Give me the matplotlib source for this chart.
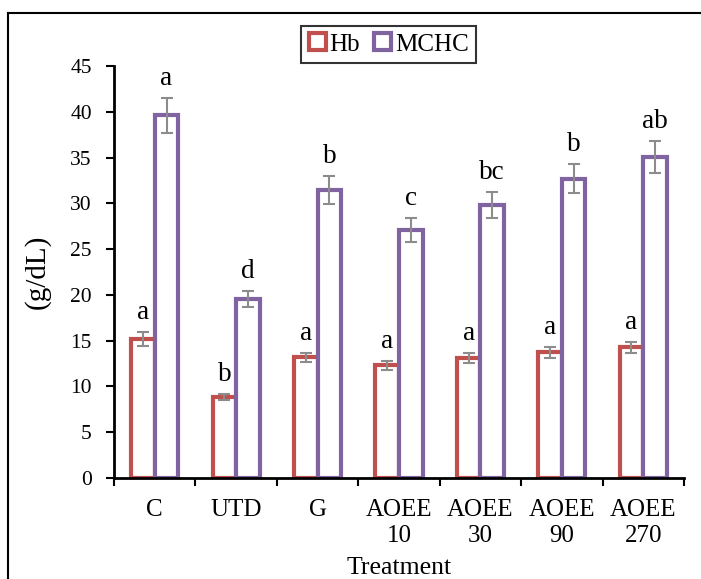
import numpy as np
import matplotlib.pyplot as plt
from matplotlib.lines import Line2D

plt.rcParams['font.family'] = ['Liberation Serif', 'DejaVu Serif']

treatments = ['C', 'UTD', 'G', 'AOEE\n10', 'AOEE\n30', 'AOEE\n90', 'AOEE\n270']
hb = [15.2, 8.85, 13.2, 12.3, 13.1, 13.75, 14.3]
hb_err = [0.75, 0.3, 0.5, 0.5, 0.55, 0.6, 0.6]
hb_letters = ['a', 'b', 'a', 'a', 'a', 'a', 'a']
mchc = [39.6, 19.55, 31.45, 27.1, 29.8, 32.7, 35.05]
mchc_err = [1.9, 0.9, 1.5, 1.3, 1.45, 1.55, 1.75]
mchc_letters = ['a', 'd', 'b', 'c', 'bc', 'b', 'ab']

red = '#C0504D'
purple = '#8064A2'
grey = '#8C8C8C'

fig = plt.figure(figsize=(7.01, 5.79), dpi=100)
ax = fig.add_axes([0.1626, 0.1744, 0.8131, 0.7116])

x = np.arange(len(treatments))
w = 0.29

ax.bar(x - w / 2, hb, w, facecolor='white', edgecolor=red, linewidth=3, label='Hb', zorder=2)
ax.bar(x + w / 2, mchc, w, facecolor='white', edgecolor=purple, linewidth=3, label='MCHC', zorder=2)
ax.errorbar(x - w / 2, hb, yerr=hb_err, fmt='none', ecolor=grey, elinewidth=1.5, capsize=4, capthick=1.5, zorder=3)
ax.errorbar(x + w / 2, mchc, yerr=mchc_err, fmt='none', ecolor=grey, elinewidth=1.5, capsize=4, capthick=1.5, zorder=3)

for xi, v, e, t in zip(x - w / 2, hb, hb_err, hb_letters):
    ax.annotate(t, (xi, v + e), xytext=(0, 5), textcoords='offset points',
                ha='center', va='bottom', fontsize=19.5)
for xi, v, e, t in zip(x + w / 2, mchc, mchc_err, mchc_letters):
    ax.annotate(t, (xi, v + e), xytext=(0, 5), textcoords='offset points',
                ha='center', va='bottom', fontsize=19.5)

ax.set_xlim(-0.5, len(treatments) - 0.5)
ax.set_ylim(0, 45)
ax.set_yticks(range(0, 46, 5))
ax.tick_params(axis='y', labelsize=15.5, direction='out', length=6, width=1.5, pad=10)

ax.set_xticks(x)
ax.set_xticklabels(treatments, fontsize=18, linespacing=1.27)
ax.tick_params(axis='x', which='major', length=0, pad=15)
ax.set_xticks(np.arange(-0.5, len(treatments)), minor=True)
ax.tick_params(axis='x', which='minor', direction='out', length=6, width=1.5)

for s in ['top', 'right']:
    ax.spines[s].set_visible(False)
for s in ['left', 'bottom']:
    ax.spines[s].set_linewidth(2)

ax.set_xlabel('Treatment', fontsize=18.5, labelpad=7)
ax.set_ylabel('(g/dL)', fontsize=21, labelpad=14)

leg = ax.legend(loc='upper center', bbox_to_anchor=(0.482, 1.128), ncol=2, fontsize=18,
                frameon=True, fancybox=False, edgecolor='black', handlelength=0.68,
                handleheight=0.68, handletextpad=0.15, columnspacing=0.55, borderpad=0.3)
leg.get_frame().set_linewidth(1.5)

# outer frame
fig.add_artist(Line2D([8 / 701, 8 / 701], [0, 1 - 13 / 579], transform=fig.transFigure, color='black', lw=1.5))
fig.add_artist(Line2D([8 / 701, 1], [1 - 13 / 579, 1 - 13 / 579], transform=fig.transFigure, color='black', lw=1.5))

fig.savefig('out.png', dpi=100)
